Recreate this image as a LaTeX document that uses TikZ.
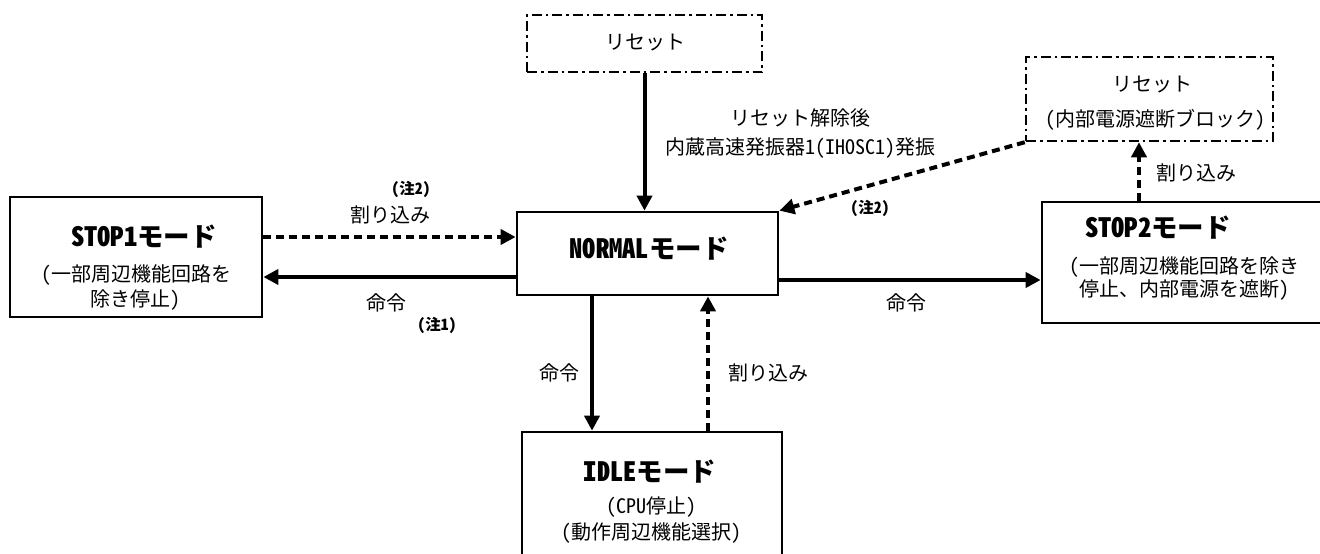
\documentclass[tikz,border=0pt]{standalone}
\usepackage{fontspec}
\setmainfont{Noto Sans CJK JP}[RawFeature=+hwid]
\usetikzlibrary{arrows.meta,calc}
\begin{document}
\begin{tikzpicture}[x=1pt,y=-1pt,
  box/.style={draw, line width=2.7pt, inner sep=0pt},
  resetbox/.style={draw, line width=2.5pt, dash pattern=on 10pt off 4pt on 2.5pt off 4pt, inner sep=0pt},
  ttl/.style={font=\fontsize{26.5}{30}\selectfont\bfseries, inner sep=0pt},
  txt/.style={font=\fontsize{20}{25}\selectfont, inner sep=0pt, align=center},
  note/.style={font=\fontsize{15.5}{17}\selectfont\bfseries, inner sep=0pt},
  solidarrow/.style={line width=4pt, -{Triangle[length=15pt,width=15pt]}},
  dasharrow/.style={line width=4pt, dash pattern=on 8pt off 5pt, -{Triangle[length=15pt,width=15pt]}},
]
\useasboundingbox (0,0) rectangle (1320,554);

% boxes
\node[resetbox, minimum width=235pt, minimum height=57pt] (reset1) at (644.5,43.5) {};
\node[txt] (reset1t) at (645,43) {リセット};

\node[resetbox, minimum width=247pt, minimum height=84pt] (reset2) at (1149.5,99) {};
\node[txt] (reset2a) at (1152,85) {リセット};
\node[txt] (reset2b) at (1155,120) {（内部電源遮断ブロック）};

\node[box, minimum width=261pt, minimum height=83pt] (normal) at (647.5,253.5) {};
\node[ttl] (normalt) at (649,249) {NORMALモード};

\node[box, minimum width=252pt, minimum height=120pt] (stop1) at (136,257) {};
\node[ttl] (stop1t) at (144,237) {STOP1モード};
\node[txt] (stop1b) at (136,287.5) {（一部周辺機能回路を\\除き停止）};

\node[box, minimum width=288pt, minimum height=121pt] (stop2) at (1186,262.5) {};
\node[ttl] (stop2t) at (1158,228) {STOP2モード};
\node[txt, font=\fontsize{20}{23}\selectfont] (stop2b) at (1184,278.5) {（一部周辺機能回路を除き\\停止、内部電源を遮断）};

\node[box, minimum width=260pt, minimum height=148pt] (idle) at (652,506) {};
\node[ttl] (idlet) at (650,472) {IDLEモード};
\node[txt, font=\fontsize{20}{26}\selectfont] (idleb) at (651,520) {（CPU停止）\\（動作周辺機能選択）};

% connectors
\draw[solidarrow] (reset1.south) -- (reset1.south |- normal.north);

\coordinate (s1a) at ([yshift=20pt]stop1.east);
\coordinate (s1b) at ([yshift=-20pt]stop1.east);
\draw[dasharrow] (s1a) -- (s1a -| normal.west);
\draw[solidarrow] (s1b -| normal.west) -- (s1b);

\coordinate (n2) at ([yshift=-26.5pt]normal.east);
\draw[solidarrow] (n2) -- (n2 -| stop2.west);

\coordinate (nd) at ([xshift=-55.5pt]normal.south);
\draw[solidarrow] (nd) -- (nd |- idle.north);
\coordinate (iu) at ([xshift=60.5pt]normal.south);
\draw[dasharrow] (iu |- idle.north) -- (iu);

\coordinate (s2u) at ([xshift=-10.5pt]reset2.south);
\draw[dasharrow] (s2u |- stop2.north) -- (s2u);

\draw[dasharrow] (reset2.south west) -- (normal.north east);

% labels
\node[txt, font=\fontsize{20}{29}\selectfont] (lblreset) at (800,133.5) {リセット解除後\\内蔵高速発振器1(IHOSC1)発振};
\node[note] (note2a) at (411,189) {(注2)};
\node[txt] (lblint1) at (390,215) {割り込み};
\node[txt] (lblcmd1) at (386,303) {命令};
\node[note] (note1) at (437,325) {(注1)};
\node[note] (note2b) at (870,208) {(注2)};
\node[txt] (lblcmd2) at (906,303) {命令};
\node[txt] (lblcmd3) at (559,373) {命令};
\node[txt] (lblint2) at (768,373) {割り込み};
\node[txt] (lblint3) at (1196,173) {割り込み};
\end{tikzpicture}
\end{document}
